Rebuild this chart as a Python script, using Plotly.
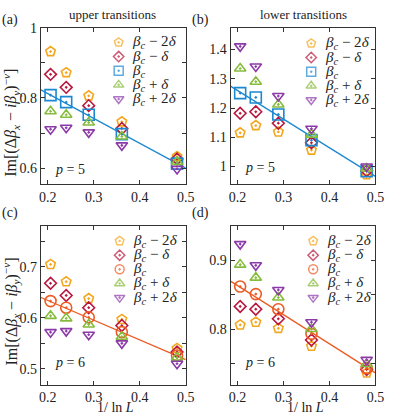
import plotly.graph_objects as go

# ---------------- data ----------------
x_vals = [0.206, 0.240, 0.289, 0.361, 0.481]
fit_x = [0.185, 0.5]

# (a) upper transitions, p = 5
a_m2 = [0.932, 0.872, 0.806, 0.732, 0.633]
a_m1 = [0.867, 0.830, 0.778, 0.713, 0.626]
a_c = [0.808, 0.788, 0.752, 0.697, 0.613]
a_p1 = [0.762, 0.752, 0.730, 0.690, 0.618]
a_p2 = [0.711, 0.715, 0.702, 0.665, 0.598]
a_fit = [0.823, 0.600]

# (b) lower transitions, p = 5
b_m2 = [1.115, 1.140, 1.118, 1.056, 0.972]
b_m1 = [1.182, 1.187, 1.148, 1.081, 0.985]
b_c = [1.251, 1.236, 1.178, 1.090, 0.984]
b_p1 = [1.335, 1.290, 1.212, 1.109, 0.993]
b_p2 = [1.411, 1.342, 1.241, 1.129, 1.000]
b_fit = [1.275, 0.966]

# (c) upper transitions, p = 6
c_m2 = [0.705, 0.671, 0.638, 0.597, 0.540]
c_m1 = [0.668, 0.644, 0.620, 0.585, 0.533]
c_c = [0.633, 0.620, 0.601, 0.572, 0.526]
c_p1 = [0.604, 0.599, 0.587, 0.563, 0.522]
c_p2 = [0.572, 0.574, 0.567, 0.550, 0.510]
c_fit = [0.640, 0.518]

# (d) lower transitions, p = 6
d_m2 = [0.806, 0.810, 0.801, 0.775, 0.736]
d_m1 = [0.833, 0.829, 0.815, 0.784, 0.741]
d_c = [0.862, 0.851, 0.829, 0.793, 0.743]
d_p1 = [0.894, 0.875, 0.846, 0.800, 0.749]
d_p2 = [0.924, 0.893, 0.857, 0.810, 0.755]
d_fit = [0.870, 0.736]

series_names = [
    "<i>β<sub>c</sub></i> − 2<i>δ</i>",
    "<i>β<sub>c</sub></i> − <i>δ</i>",
    "<i>β<sub>c</sub></i>",
    "<i>β<sub>c</sub></i> + <i>δ</i>",
    "<i>β<sub>c</sub></i> + 2<i>δ</i>",
]

# ---------------- styles ----------------
C_ORANGE = "#F4A71E"
C_RED = "#B8173E"
C_BLUE = "#1B88D0"
C_GREEN = "#86BC3C"
C_PURPLE = "#8B3AA8"
C_VERM = "#EC5B22"
FONT = "Liberation Serif, Times New Roman, Times, serif"
AXC = "#333333"
TXT = "#222222"
W, H = 398, 417

fig = go.Figure()

panels = [
    dict(data=[a_m2, a_m1, a_c, a_p1, a_p2], fit=a_fit, xa="x", ya="y",
         csym="square-open-dot", ccol=C_BLUE, leg=(120, 36, 133)),
    dict(data=[b_m2, b_m1, b_c, b_p1, b_p2], fit=b_fit, xa="x2", ya="y2",
         csym="square-open-dot", ccol=C_BLUE, leg=(318, 37, 331)),
    dict(data=[c_m2, c_m1, c_c, c_p1, c_p2], fit=c_fit, xa="x3", ya="y3",
         csym="circle-open-dot", ccol=C_VERM, leg=(121, 238, 134)),
    dict(data=[d_m2, d_m1, d_c, d_p1, d_p2], fit=d_fit, xa="x4", ya="y4",
         csym="circle-open-dot", ccol=C_VERM, leg=(320, 238, 333)),
]
ROW = 14.4

for p in panels:
    fig.add_trace(go.Scatter(x=fit_x, y=p["fit"], mode="lines", xaxis=p["xa"], yaxis=p["ya"],
                             line=dict(color=p["ccol"], width=1.3), showlegend=False,
                             hoverinfo="skip"))
    syms = ["pentagon-open-dot", "diamond-open-dot", p["csym"],
            "triangle-up-open-dot", "triangle-down-open-dot"]
    cols = [C_ORANGE, C_RED, p["ccol"], C_GREEN, C_PURPLE]
    sizes = [10, 9, 11, 10, 10]
    for vals, nm, s, c, sz in zip(p["data"], series_names, syms, cols, sizes):
        fig.add_trace(go.Scatter(x=x_vals, y=vals, mode="markers", name=nm,
                                 xaxis=p["xa"], yaxis=p["ya"], showlegend=False,
                                 marker=dict(symbol=s, color=c, size=sz,
                                             line=dict(color=c, width=1.6))))
    # compact key (legend) drawn on a pixel overlay axis
    mx, my0, tx = p["leg"]
    ys = [my0 + ROW * i for i in range(5)]
    fig.add_trace(go.Scatter(x=[mx] * 5, y=ys, mode="markers", xaxis="x5", yaxis="y5",
                             showlegend=False, hoverinfo="skip",
                             marker=dict(symbol=syms, color=cols, size=[9, 8, 9, 9, 9],
                                         line=dict(color=cols, width=1.5))))
    for yy, nm in zip(ys, series_names):
        fig.add_annotation(text=nm, x=tx, y=yy, xref="x5", yref="y5", showarrow=False,
                           xanchor="left", yanchor="middle", borderpad=0,
                           font=dict(family=FONT, size=15, color=TXT))

xd_l = [40 / W, 189 / W]
xd_r = [235 / W, 384 / W]
yd_t = [1 - 180 / H, 1 - 21 / H]
yd_b = [1 - 384 / H, 1 - 223 / H]

common = dict(showline=True, linecolor=AXC, linewidth=1, mirror="allticks",
              ticks="inside", ticklen=4, tickcolor=AXC, showgrid=False, zeroline=False,
              tickfont=dict(family=FONT, size=14, color=TXT))

xcommon = dict(common, range=[0.185, 0.5], tickvals=[0.2, 0.3, 0.4, 0.5],
               ticktext=["0.2", "0.3", "0.4", "0.5"])

fig.update_layout(
    width=W, height=H, margin=dict(l=0, r=0, t=0, b=0),
    paper_bgcolor="white", plot_bgcolor="rgba(0,0,0,0)",
    font=dict(family=FONT, size=14, color=TXT),
    xaxis=dict(xcommon, domain=xd_l, anchor="y"),
    xaxis2=dict(xcommon, domain=xd_r, anchor="y2"),
    xaxis3=dict(xcommon, domain=xd_l, anchor="y3"),
    xaxis4=dict(xcommon, domain=xd_r, anchor="y4"),
    yaxis=dict(common, domain=yd_t, anchor="x", range=[0.555, 1.0], tickvals=[0.6, 0.8, 1.0],
               ticktext=["0.6", "0.8", "1"],
               minor=dict(tickvals=[0.7, 0.9], ticks="inside", ticklen=4, tickcolor=AXC)),
    yaxis2=dict(common, domain=yd_t, anchor="x2", range=[0.94, 1.475],
                tickvals=[1.0, 1.1, 1.2, 1.3, 1.4], ticktext=["1", "1.1", "1.2", "1.3", "1.4"]),
    yaxis3=dict(common, domain=yd_b, anchor="x3", range=[0.469, 0.78],
                tickvals=[0.5, 0.6, 0.7], ticktext=["0.5", "0.6", "0.7"],
                minor=dict(tickvals=[0.55, 0.65, 0.75], ticks="inside", ticklen=4, tickcolor=AXC)),
    yaxis4=dict(common, domain=yd_b, anchor="x4", range=[0.719, 0.95],
                tickvals=[0.8, 0.9], ticktext=["0.8", "0.9"],
                minor=dict(tickvals=[0.75, 0.85], ticks="inside", ticklen=4, tickcolor=AXC)),
    xaxis5=dict(domain=[0, 1], range=[0, W], visible=False, anchor="y5", fixedrange=True),
    yaxis5=dict(domain=[0, 1], range=[H, 0], visible=False, anchor="x5", fixedrange=True),
)

ytitle = "Im[(Δ<i>β<sub>x</sub></i> − <i>iβ<sub>y</sub></i>)<sup>−<i>ν</i></sup>]"
ann = [
    dict(text="upper transitions", x=114, y=8, fs=13),
    dict(text="lower transitions", x=310, y=8, fs=13),
    dict(text="(a)", x=8, y=13, fs=14),
    dict(text="(b)", x=204, y=13, fs=14),
    dict(text="(c)", x=8, y=210, fs=14),
    dict(text="(d)", x=204, y=210, fs=14),
    dict(text="<i>p</i> = 5", x=70, y=165, fs=14),
    dict(text="<i>p</i> = 5", x=265, y=163, fs=14),
    dict(text="<i>p</i> = 6", x=70, y=362, fs=14),
    dict(text="<i>p</i> = 6", x=265, y=362, fs=14),
    dict(text="1/ ln <i>L</i>", x=117, y=407, fs=14),
    dict(text="1/ ln <i>L</i>", x=312, y=407, fs=14),
]
for a in ann:
    fig.add_annotation(text=a["text"], x=a["x"] / W, y=1 - a["y"] / H, xref="paper", yref="paper",
                       showarrow=False, xanchor="center", yanchor="middle",
                       font=dict(family=FONT, size=a["fs"], color=TXT))
for yc in [118, 310]:
    fig.add_annotation(text=ytitle, x=9 / W, y=1 - yc / H, xref="paper", yref="paper",
                       showarrow=False, textangle=-90, xanchor="center", yanchor="middle",
                       font=dict(family=FONT, size=16, color=TXT))

fig.write_html("out.html", config={"displayModeBar": False},
               post_script="document.body.style.margin='0px';document.body.style.padding='0px';")
